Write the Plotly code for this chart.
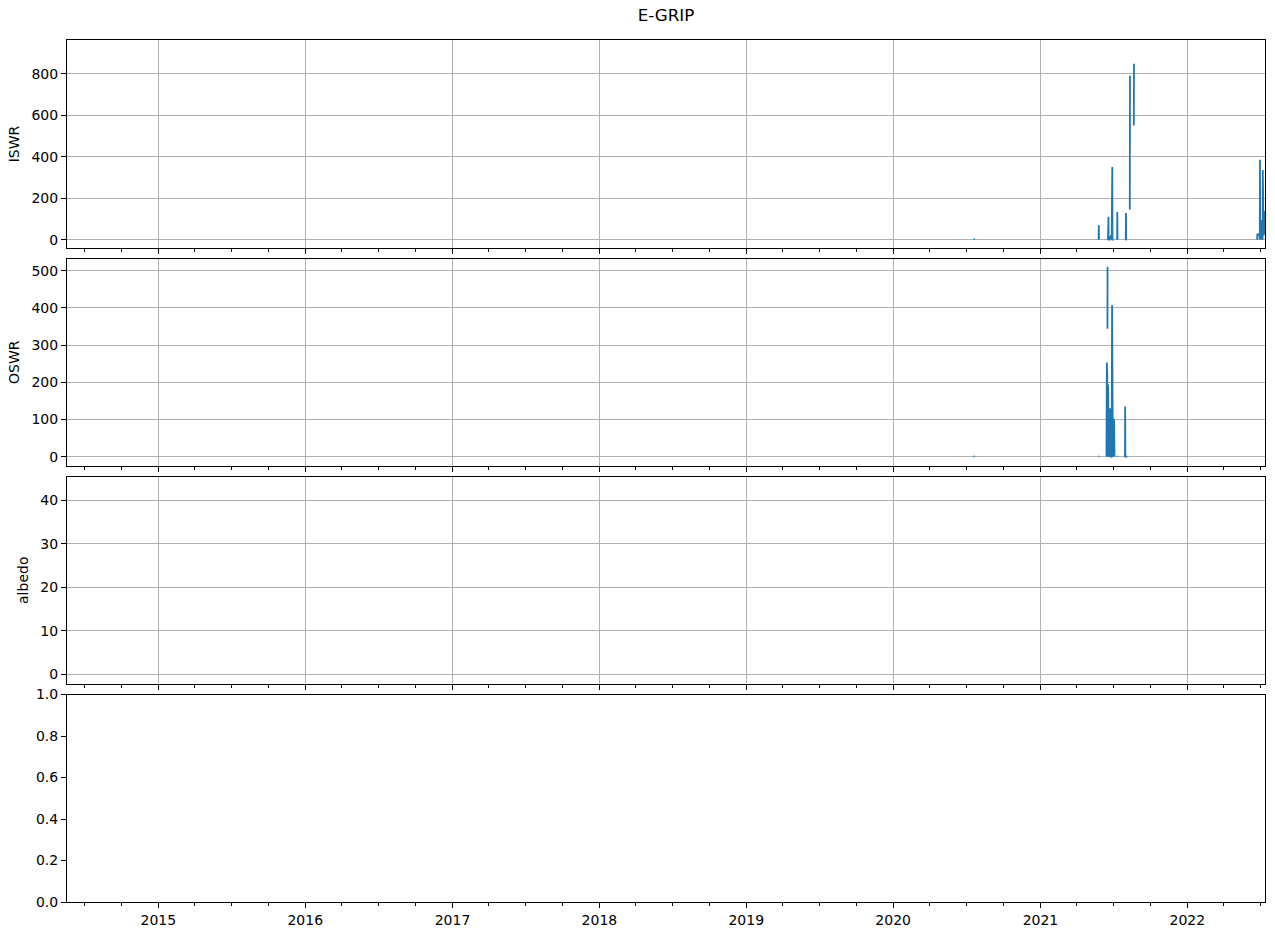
import plotly.graph_objects as go
from plotly.subplots import make_subplots

# ---------------- data ----------------
iswr_time = [
    "2020-07-19", "2020-07-22", None,
    "2021-05-25 12:00", "2021-05-26 00:00", "2021-05-26 12:00", None,
    "2021-06-17", "2021-06-18", "2021-06-19", "2021-06-19 12:00", "2021-06-22",
    "2021-06-25", "2021-06-27", "2021-06-28", "2021-06-28 06:00", "2021-06-28 12:00",
    "2021-06-29", "2021-07-02", None,
    "2021-07-10 12:00", "2021-07-11", "2021-07-11 12:00", None,
    "2021-08-01", "2021-08-01 12:00", "2021-08-02", "2021-08-03", None,
    "2021-08-11", "2021-08-11 12:00", None,
    "2021-08-21", "2021-08-21 12:00", None,
    "2022-06-23 12:00", "2022-06-24", "2022-06-29", "2022-06-30", "2022-06-30 12:00",
    "2022-07-01", "2022-07-02", "2022-07-03", "2022-07-04", "2022-07-05",
    "2022-07-06", "2022-07-07", "2022-07-07 12:00", "2022-07-08", "2022-07-09",
    "2022-07-10", "2022-07-11", "2022-07-12", "2022-07-13",
]
iswr_vals = [
    3, 3, None,
    0, 70, 0, None,
    0, 15, 110, 0, 0,
    20, 0, 320, 30, 350,
    0, 0, None,
    0, 133, 0, None,
    0, 128, 0, 0, None,
    145, 790, None,
    550, 848, None,
    0, 25, 25, 0, 385,
    5, 90, 10, 95, 0,
    90, 0, 336, 10, 100,
    20, 138, 30, 120,
]

oswr_time = [
    "2020-07-19", "2020-07-22", None,
    "2021-05-25", "2021-05-27", None,
    "2021-06-14", "2021-06-15", "2021-06-15 06:00", "2021-06-15 12:00",
    "2021-06-15 18:00", "2021-06-16", "2021-06-16 06:00", None,
    "2021-06-16 12:00", "2021-06-16 18:00", None,
    "2021-06-17", "2021-06-17 12:00", "2021-06-18", "2021-06-18 12:00",
    "2021-06-19", "2021-06-19 12:00", "2021-06-20", "2021-06-21", "2021-06-22",
    "2021-06-23", "2021-06-24", "2021-06-27", "2021-06-28", "2021-06-28 12:00",
    "2021-06-29", "2021-06-30", "2021-07-01", "2021-07-02", "2021-07-03",
    "2021-07-04", None,
    "2021-07-11", "2021-07-13", None,
    "2021-07-30", "2021-07-30 12:00", "2021-07-31", "2021-08-05", None,
]
oswr_vals = [
    1, 1, None,
    1, 1, None,
    0, 253, 0, 234,
    0, 230, 0, None,
    344, 511, None,
    0, 195, 0, 180,
    0, 130, 0, 100, 0,
    130, 0, 0, 407, 0,
    100, 0, 102, 0, 100,
    0, None,
    1, 1, None,
    0, 135, 0, 0, None,
]

x_range = ["2014-05-19", "2022-07-13"]
panel_titles = ["ISWR", "OSWR", "albedo", ""]
y_ranges = [[-40, 962], [-25, 533], [-2.3, 45.5], [0, 1]]
y_ticks = [[0, 200, 400, 600, 800],
           [0, 100, 200, 300, 400, 500],
           [0, 10, 20, 30, 40],
           [0.0, 0.2, 0.4, 0.6, 0.8, 1.0]]

# ---------------- figure ----------------
W, H = 1275, 936
# plot-area edges in window pixels
left_px, right_px, top_px, bottom_px = 67, 1265, 40, 902
ml = left_px
mr = W - right_px
mt = top_px
mb = H - bottom_px
ph = bottom_px - top_px
panels_px = [(40, 248), (258.5, 466), (476.5, 684), (694.5, 902)]

fig = make_subplots(rows=4, cols=1, shared_xaxes=True, vertical_spacing=0.01)

blue = "#1f77b4"
fig.add_trace(go.Scatter(x=iswr_time, y=iswr_vals, mode="lines",
                         line=dict(color=blue, width=1.8), connectgaps=False,
                         showlegend=False), row=1, col=1)
fig.add_trace(go.Scatter(x=oswr_time, y=oswr_vals, mode="lines",
                         line=dict(color=blue, width=1.8), connectgaps=False,
                         showlegend=False), row=2, col=1)
fig.add_trace(go.Scatter(x=[], y=[], mode="lines", showlegend=False), row=3, col=1)
fig.add_trace(go.Scatter(x=[], y=[], mode="lines", showlegend=False), row=4, col=1)

font = dict(family="DejaVu Sans", size=14, color="black")
grid_col = "#b0b0b0"

for i in range(4):
    top, bot = panels_px[i]
    d0 = (bottom_px - bot) / ph
    d1 = (bottom_px - top) / ph
    show_grid = i < 3
    yname = "yaxis" if i == 0 else f"yaxis{i+1}"
    xname = "xaxis" if i == 0 else f"xaxis{i+1}"
    fig.layout[yname].update(
        domain=[max(0, d0), min(1, d1)],
        range=y_ranges[i], tickvals=y_ticks[i],
        tickformat=".1f" if i == 3 else None,
        showline=True, linecolor="black", linewidth=1, mirror=True,
        ticks="outside", ticklen=5, tickwidth=1, tickcolor="black",
        showgrid=show_grid, gridcolor=grid_col, gridwidth=1,
        zeroline=False, tickfont=font, automargin=False,
        title=dict(text=panel_titles[i], font=font, standoff=8),
    )
    fig.layout[xname].update(
        type="date", range=x_range,
        showline=True, linecolor="black", linewidth=1, mirror=True,
        ticks="outside", ticklen=5, tickwidth=1, tickcolor="black",
        tick0="2015-01-01", dtick="M12", tickformat="%Y",
        showticklabels=(i == 3), tickfont=font, automargin=False,
        showgrid=show_grid, gridcolor=grid_col, gridwidth=1,
        zeroline=False,
        minor=dict(dtick="M3", tick0="2014-01-01", ticks="outside", ticklen=3,
                   tickwidth=1, tickcolor="black", showgrid=False),
    )

fig.update_layout(
    width=W, height=H,
    margin=dict(l=ml, r=mr, t=mt, b=mb, pad=0),
    plot_bgcolor="white", paper_bgcolor="white",
    font=font,
    title=dict(text="E-GRIP", x=0.5, xref="paper", xanchor="center",
               y=1 - 15 / H, yref="container", yanchor="middle",
               font=dict(family="DejaVu Sans", size=16.7, color="black")),
    showlegend=False,
)

# remove the browser's default 8px body margin so the figure fills the window
fig.write_html("out.html",
               config={"displayModeBar": False},
               post_script="document.body.style.margin='0px';document.body.style.overflow='hidden';")
